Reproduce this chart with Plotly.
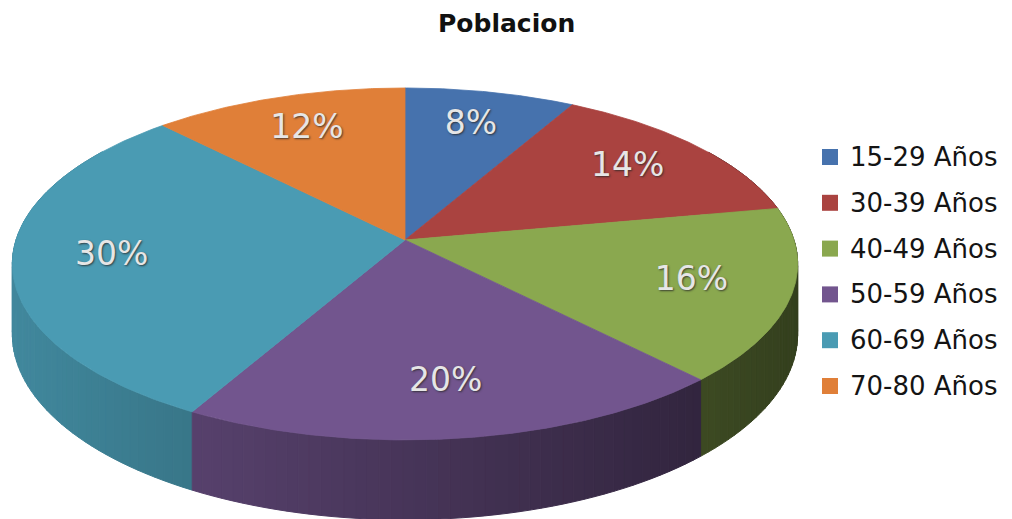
import numpy as np
import plotly.graph_objects as go

# Age groups and their share of the population (%)
categories = ["15-29 Años", "30-39 Años", "40-49 Años", "50-59 Años", "60-69 Años", "70-80 Años"]
shares = [8, 14, 16, 20, 30, 12]
colors = ["#4672AD", "#AA4340", "#8AA84F", "#72558E", "#4A9BB3", "#E07F38"]

W, H = 1012, 519

# Tilted-disc projection (pixel space): centre, radii, perspective and thickness
CX, CY = 405, 240
RX, RY = 389, 172.7
K = 0.136
DEPTH = 69


def project(r, theta):
    """theta measured clockwise from 12 o'clock, r as a fraction of the radius."""
    x = r * np.sin(theta)
    v = r * np.cos(theta)
    s = 1.0 / (1.0 + K * v)
    return CX + RX * x * s, CY - RY * v * s, s


def hex_to_rgb(h):
    h = h.lstrip("#")
    return tuple(int(h[i:i + 2], 16) for i in (0, 2, 4))


def shade(h, f):
    r, g, b = hex_to_rgb(h)
    return "rgb(%d,%d,%d)" % (int(r * f), int(g * f), int(b * f))


total = float(sum(shares))
bounds = np.concatenate([[0.0], np.cumsum(shares) / total * 2 * np.pi])

fig = go.Figure()

# ---- side wall: thin strips, drawn back to front, darker towards the right
strips = []
step = np.radians(1.5)
for i, c in enumerate(colors):
    a0, a1 = bounds[i], bounds[i + 1]
    n = max(1, int(np.ceil((a1 - a0) / step)))
    edges = np.linspace(a0, a1, n + 1)
    for t0, t1 in zip(edges[:-1], edges[1:]):
        tm = 0.5 * (t0 + t1)
        if np.cos(tm) > 0.55:
            continue
        x0, y0, s0 = project(1.0, t0)
        x1, y1, s1 = project(1.0, t1)
        xm, _, _ = project(1.0, tm)
        f = 0.88 - 0.5 * (xm - 12) / 786.0
        col = shade(c, max(0.3, min(0.9, f)))
        strips.append((np.cos(tm),
                       [x0, x1, x1, x0, x0],
                       [y0, y1, y1 + DEPTH * s1, y0 + DEPTH * s0, y0],
                       col))

strips.sort(key=lambda s: -s[0])
for _, xs, ys, col in strips:
    fig.add_trace(go.Scatter(x=xs, y=ys, mode="lines", fill="toself",
                             fillcolor=col, line=dict(color=col, width=1),
                             hoverinfo="skip", showlegend=False))

# ---- top faces
for i, c in enumerate(colors):
    th = np.linspace(bounds[i], bounds[i + 1], 120)
    xs, ys, _ = project(1.0, th)
    px = np.concatenate([[CX], xs, [CX]])
    py = np.concatenate([[CY], ys, [CY]])
    fig.add_trace(go.Scatter(x=px, y=py, mode="lines", fill="toself",
                             fillcolor=c, line=dict(color=c, width=0.8),
                             name=categories[i], hoverinfo="skip",
                             showlegend=False))

# ---- percentage labels on the slices
mids = 0.5 * (bounds[:-1] + bounds[1:])
lx, ly, _ = project(0.75, mids)
fig.add_trace(go.Scatter(
    x=lx, y=ly, mode="text",
    text=["%d%%" % v for v in shares],
    textposition="middle center",
    textfont=dict(family="DejaVu Sans", size=33, color="#E6E6E6",
                  shadow="1px 1px 2px rgba(40,40,40,0.8)"),
    hoverinfo="skip", showlegend=False))

# ---- legend
LEG_X, LEG_Y0, LEG_DY = 830, 157, 45.8
ly_leg = [LEG_Y0 + LEG_DY * i for i in range(len(categories))]
fig.add_trace(go.Scatter(
    x=[LEG_X] * len(categories), y=ly_leg, mode="markers",
    marker=dict(symbol="square", size=16, color=colors, line=dict(width=0)),
    hoverinfo="skip", showlegend=False))
for name, yy in zip(categories, ly_leg):
    fig.add_annotation(x=LEG_X + 18, y=yy, text=name, showarrow=False,
                       xanchor="left", yanchor="middle",
                       font=dict(family="DejaVu Sans", size=26, color="#141414"))

# ---- title
fig.add_annotation(x=W / 2, y=23, text="<b>Poblacion</b>", showarrow=False,
                   xanchor="center", yanchor="middle",
                   font=dict(family="DejaVu Sans", size=25, color="#111111"))

fig.update_layout(
    width=W, height=H,
    margin=dict(l=0, r=0, t=0, b=0),
    paper_bgcolor="white", plot_bgcolor="white",
    showlegend=False,
    xaxis=dict(range=[0, W], visible=False, fixedrange=True),
    yaxis=dict(range=[H, 0], visible=False, fixedrange=True),
)

fig.write_html("out.html")
